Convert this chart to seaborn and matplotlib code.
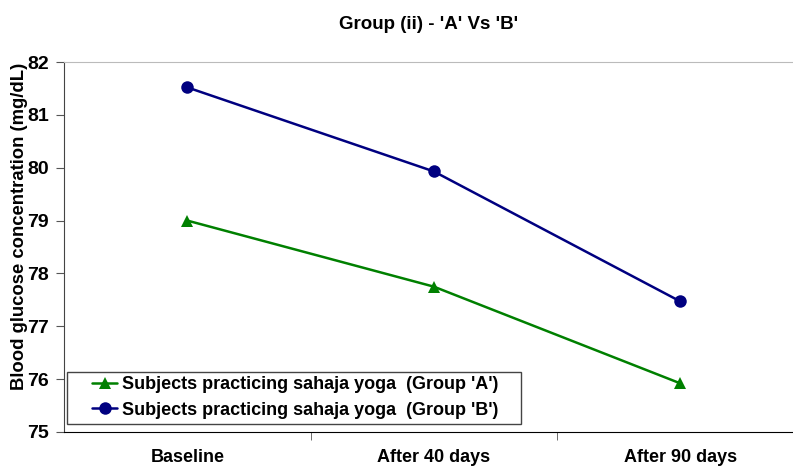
import pandas as pd
import matplotlib.pyplot as plt
import seaborn as sns
from matplotlib.patches import Rectangle

# Data
periods = ["Baseline", "After 40 days", "After 90 days"]
group_a = [79.0, 77.75, 75.92]
group_b = [81.52, 79.93, 77.47]
label_a = "Subjects practicing sahaja yoga  (Group 'A')"
label_b = "Subjects practicing sahaja yoga  (Group 'B')"

df = pd.DataFrame({
    "Period": periods * 2,
    "Glucose": group_a + group_b,
    "Group": [label_a] * 3 + [label_b] * 3,
})

sns.set_style("white")
plt.rcParams["font.family"] = ["Liberation Sans", "DejaVu Sans"]
plt.rcParams["font.weight"] = "bold"
plt.rcParams["text.color"] = "black"
plt.rcParams["axes.labelcolor"] = "black"
plt.rcParams["xtick.labelcolor"] = "black"
plt.rcParams["ytick.labelcolor"] = "black"

fig = plt.figure(figsize=(7.93, 4.67), dpi=100)
ax = fig.add_axes([64 / 793, 1 - 432 / 467, 1 - 64 / 793, (432 - 62) / 467])

sns.lineplot(data=df, x="Period", y="Glucose", hue="Group", style="Group",
             palette={label_a: "#008000", label_b: "#000080"},
             markers={label_a: "^", label_b: "o"}, dashes=False,
             markersize=9, linewidth=1.8, markeredgewidth=0, ax=ax)

ax.set_xlim(-0.5, 2.457)
ax.set_ylim(75, 82)
ax.set_yticks(range(75, 83))
ax.set_xticks([0, 1, 2])
ax.set_xticklabels(periods, fontsize=13, fontweight="bold")
ax.tick_params(axis="x", length=0, pad=12)
ax.set_xticks([0.5, 1.5], minor=True)
ax.tick_params(axis="x", which="minor", length=6, direction="out", color="#555555", bottom=True)
ax.tick_params(axis="y", length=6, direction="out", color="#555555", labelsize=14, left=True, pad=5)
for t in ax.get_yticklabels():
    t.set_fontweight("bold")

ax.set_xlabel("")
ax.set_ylabel("Blood glucose concentration (mg/dL)", fontsize=13.3, fontweight="bold")
ax.yaxis.set_label_coords(-0.049, 0.555)
ax.set_title("Group (ii) - 'A' Vs 'B'", fontsize=13.5, fontweight="bold", pad=24)

ax.spines["top"].set_color("#bbbbbb")
ax.spines["left"].set_color("#444444")
ax.spines["bottom"].set_color("black")
ax.spines["right"].set_visible(False)

leg = ax.legend(loc="lower left", bbox_to_anchor=(0.039, 0.036), fontsize=13,
                frameon=False, handlelength=1.35, handletextpad=0.3,
                borderpad=0, labelspacing=0.48, borderaxespad=0, markerscale=1.0)
for t in leg.get_texts():
    t.set_fontweight("bold")
    t.set_color("black")

# Excel-style legend box, wider than the text
fig.canvas.draw()
bb = leg.get_window_extent()
box = Rectangle((bb.x0 - 25, bb.y0 - 5), bb.width + 47, bb.height + 9,
                transform=None, facecolor="white", edgecolor="#444444",
                linewidth=1.0, zorder=4, clip_on=False)
ax.add_patch(box)
leg.set_zorder(5)

fig.savefig("out.png", dpi=100)
